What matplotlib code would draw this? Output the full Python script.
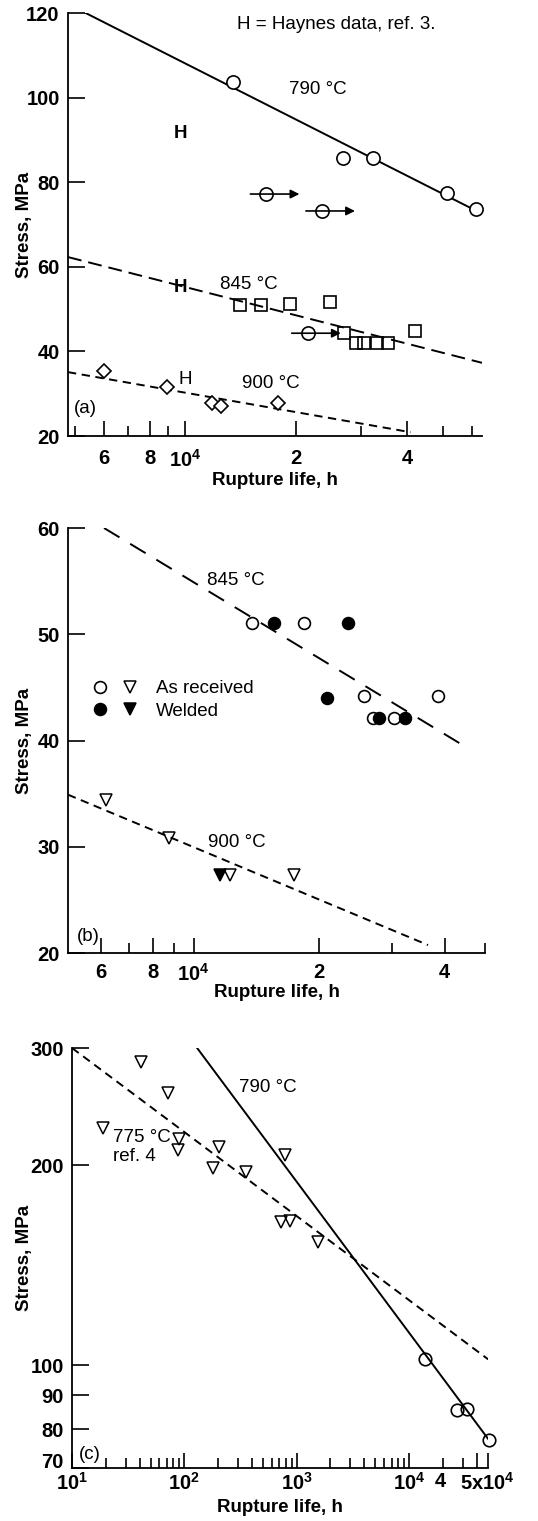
import matplotlib.pyplot as plt
import matplotlib.transforms as mtransforms
from matplotlib.ticker import FixedLocator, FixedFormatter, NullFormatter, NullLocator
from matplotlib.legend_handler import HandlerTuple

plt.rcParams['font.family'] = ['Liberation Sans', 'DejaVu Sans']
plt.rcParams['mathtext.fontset'] = 'custom'
plt.rcParams['mathtext.rm'] = 'Liberation Sans:bold'
plt.rcParams['mathtext.it'] = 'Liberation Sans:bold'
plt.rcParams['mathtext.bf'] = 'Liberation Sans:bold'
plt.rcParams['lines.scale_dashes'] = False

# ---- panel (a) data ----
a790_life = [1.35e4, 2.69e4, 3.23e4, 5.13e4, 6.15e4]
a790_stress = [103.7, 85.7, 85.7, 77.4, 73.7]
a790_run_life = [1.66e4, 2.35e4]
a790_run_stress = [77.2, 73.2]
a790_fit_life = [5.36e3, 6.35e4]
a790_fit_stress = [120, 72.7]

a845_life = [1.41e4, 1.61e4, 1.93e4, 2.47e4, 2.70e4, 2.91e4, 3.06e4, 3.31e4, 3.55e4, 4.20e4]
a845_stress = [51.0, 51.0, 51.2, 51.6, 44.3, 42.0, 42.0, 42.0, 42.0, 44.8]
a845_run_life = [2.15e4]
a845_run_stress = [44.3]
a845_fit_life = [4.8e3, 6.4e4]
a845_fit_stress = [62.3, 37.3]

a900_life = [6.0e3, 8.9e3, 1.18e4, 1.25e4, 1.79e4]
a900_stress = [35.3, 31.6, 27.8, 27.1, 27.8]
a900_fit_life = [4.8e3, 4.09e4]
a900_fit_stress = [35.1, 20.9]

# ---- panel (b) data ----
b845_recv_life = [1.38e4, 1.84e4, 2.56e4, 2.70e4, 3.03e4, 3.86e4]
b845_recv_stress = [51.1, 51.1, 44.2, 42.1, 42.1, 44.2]
b845_weld_life = [1.56e4, 2.35e4, 2.09e4, 2.79e4, 3.22e4]
b845_weld_stress = [51.1, 51.1, 44.0, 42.1, 42.1]
b845_fit_life = [6.1e3, 4.45e4]
b845_fit_stress = [60, 39.5]

b900_recv_life = [6.17e3, 8.75e3, 1.22e4, 1.74e4]
b900_recv_stress = [34.4, 30.8, 27.3, 27.3]
b900_weld_life = [1.16e4]
b900_weld_stress = [27.3]
b900_fit_life = [5e3, 3.65e4]
b900_fit_stress = [34.9, 20.75]

# ---- panel (c) data ----
c790_life = [1.39e4, 2.68e4, 3.30e4, 5.17e4]
c790_stress = [102, 85.6, 85.8, 77]
c790_fit_life = [130, 5.07e4]
c790_fit_stress = [300, 77.4]

c775_life = [41.3, 71.9, 18.9, 90.2, 88.3, 205, 181, 351, 782, 720, 866, 1540]
c775_stress = [286, 257, 227, 219, 211, 213, 198, 195, 207, 164, 165, 153]
c775_fit_life = [10, 5.07e4]
c775_fit_stress = [300, 102]

# tick setup
a_xmajor = [6e3, 8e3, 1e4, 2e4, 4e4]
a_xlabels = ['6', '8', '$10^4$', '2', '4']
a_xminor = [5e3, 7e3, 9e3, 3e4, 5e4, 6e4]
b_xmajor = [6e3, 8e3, 1e4, 2e4, 4e4]
b_xlabels = ['6', '8', '$10^4$', '2', '4']
b_xminor = [7e3, 9e3, 3e4, 5e4]
c_xmajor = [10, 100, 1e3, 1e4, 4e4, 5e4]
c_xlabels = ['$10^1$', '$10^2$', '$10^3$', '$10^4$', '4', '5x$10^4$']
c_xminor = [m * 10 ** d for d in range(1, 5) for m in range(2, 10) if m * 10 ** d < 4e4]

LW = 1.4
FS = 13.5
TFS = 14.5
LONG = (10, 5)
LONG_B = (13, 9)
SHORT = (6, 4)

fig = plt.figure(figsize=(5.38, 15.21), dpi=100)
ax_a = fig.add_axes([68 / 538, 1 - 436 / 1521, 414 / 538, 423 / 1521])
ax_b = fig.add_axes([68 / 538, 1 - 953 / 1521, 417 / 538, 425 / 1521])
ax_c = fig.add_axes([72 / 538, 1 - 1468 / 1521, 416 / 538, 420 / 1521])


def setup(ax, xmajor, xlabels, xminor, yticks, ylabels, xpad, xlab_y, ylab_x):
    ax.set_xscale('log')
    for s in ['top', 'right']:
        ax.spines[s].set_visible(False)
    for s in ['left', 'bottom']:
        ax.spines[s].set_linewidth(1.3)
    ax.xaxis.set_major_locator(FixedLocator(xmajor))
    ax.xaxis.set_major_formatter(FixedFormatter(xlabels))
    ax.xaxis.set_minor_locator(FixedLocator(xminor))
    ax.xaxis.set_minor_formatter(NullFormatter())
    ax.set_yticks(yticks, labels=ylabels)
    ax.yaxis.set_minor_locator(NullLocator())
    ax.tick_params(axis='x', which='major', direction='in', length=11, width=1.2, pad=xpad)
    ax.tick_params(axis='x', which='minor', direction='in', length=7, width=1.2)
    ax.tick_params(axis='y', which='major', direction='in', length=12, width=1.2, pad=6)
    for lab in ax.get_xticklabels() + ax.get_yticklabels():
        lab.set_fontweight('bold')
        lab.set_fontsize(TFS)
    ax.set_xlabel('Rupture life, h', fontsize=FS, fontweight='bold')
    ax.set_ylabel('Stress, MPa', fontsize=FS, fontweight='bold')
    ax.xaxis.set_label_coords(0.5, xlab_y)
    ax.yaxis.set_label_coords(ylab_x, 0.5)


# ---------------- (a) ----------------
ax = ax_a
ax.plot(a790_fit_life, a790_fit_stress, '-', color='k', lw=LW)
ax.plot(a845_fit_life, a845_fit_stress, color='k', lw=LW, dashes=LONG)
ax.plot(a900_fit_life, a900_fit_stress, color='k', lw=LW, dashes=SHORT)
for x, y in zip(a790_run_life + a845_run_life, a790_run_stress + a845_run_stress):
    ax.annotate('', xy=(x * 1.23, y), xytext=(x / 1.105, y),
                arrowprops=dict(arrowstyle='-|>', color='k', lw=1.2,
                                mutation_scale=13, shrinkA=0, shrinkB=0))
ax.plot(a790_run_life + a845_run_life, a790_run_stress + a845_run_stress, 'o',
        ms=9.5, mfc='none', mec='k', mew=1.2, zorder=4)
ax.plot(a790_life, a790_stress, 'o', ms=9.5, mfc='white', mec='k', mew=1.2,
        zorder=4, clip_on=False)
ax.plot(a845_life, a845_stress, 's', ms=9, mfc='none', mec='k', mew=1.2, zorder=4)
ax.plot(a900_life, a900_stress, 'D', ms=7, mfc='white', mec='k', mew=1.2, zorder=4)
ax.text(2.57e4, 117.2, 'H = Haynes data, ref. 3.', fontsize=FS, ha='center', va='center')
ax.text(2.29e4, 102.0, '790 °C', fontsize=FS, ha='center', va='center')
ax.text(9.7e3, 91.4, 'H', fontsize=FS, fontweight='bold', ha='center', va='center')
ax.text(9.7e3, 55.0, 'H', fontsize=FS, fontweight='bold', ha='center', va='center')
ax.text(1.49e4, 55.8, '845 °C', fontsize=FS, ha='center', va='center')
ax.text(1.0e4, 33.4, 'H', fontsize=FS, ha='center', va='center')
ax.text(1.71e4, 32.5, '900 °C', fontsize=FS, ha='center', va='center')
ax.text(4.98e3, 26.4, '(a)', fontsize=FS, ha='left', va='center')
ax.set_xlim(4.8e3, 6.4e4)
ax.set_ylim(20, 120)
setup(ax, a_xmajor, a_xlabels, a_xminor, [20, 40, 60, 80, 100, 120],
      ['20', '40', '60', '80', '100', '120'], 9, -0.085, -0.085)

# ---------------- (b) ----------------
ax = ax_b
ax.plot(b845_fit_life, b845_fit_stress, color='k', lw=LW, dashes=LONG_B)
ax.plot(b900_fit_life, b900_fit_stress, color='k', lw=LW, dashes=SHORT)
h_oc, = ax.plot(b845_recv_life, b845_recv_stress, 'o', ms=8.5, mfc='white', mec='k',
                mew=1.2, zorder=4)
h_fc, = ax.plot(b845_weld_life, b845_weld_stress, 'o', ms=8.5, mfc='k', mec='k',
                mew=1.2, zorder=5)
h_ot, = ax.plot(b900_recv_life, b900_recv_stress, 'v', ms=8.5, mfc='none', mec='k',
                mew=1.1, zorder=4)
h_ft, = ax.plot(b900_weld_life, b900_weld_stress, 'v', ms=8.5, mfc='k', mec='k',
                mew=1.1, zorder=5)
ax.text(1.26e4, 55.1, '845 °C', fontsize=FS, ha='center', va='center')
ax.text(1.27e4, 30.4, '900 °C', fontsize=FS, ha='center', va='center')
ax.text(5.25e3, 21.6, '(b)', fontsize=FS, ha='left', va='center')
ax.legend([(h_oc, h_ot), (h_fc, h_ft)], ['As received', 'Welded'],
          handler_map={tuple: HandlerTuple(ndivide=None, pad=0.6)},
          loc='upper left', bbox_to_anchor=(0.055, 0.642), frameon=False,
          handlelength=2.6, handletextpad=0.85, labelspacing=0.28,
          borderpad=0, borderaxespad=0, prop={'size': FS})
ax.set_xlim(5e3, 5e4)
ax.set_ylim(20, 60)
setup(ax, b_xmajor, b_xlabels, b_xminor, [20, 30, 40, 50, 60],
      ['20', '30', '40', '50', '60'], 7, -0.072, -0.084)

# ---------------- (c) ----------------
ax = ax_c
ax.set_yscale('log')
ax.plot(c790_fit_life, c790_fit_stress, '-', color='k', lw=LW)
ax.plot(c775_fit_life, c775_fit_stress, color='k', lw=LW, dashes=SHORT)
ax.plot(c790_life, c790_stress, 'o', ms=9, mfc='none', mec='k', mew=1.2,
        zorder=4, clip_on=False)
ax.plot(c775_life, c775_stress, 'v', ms=8.5, mfc='none', mec='k', mew=1.1, zorder=4)
ax.text(551, 262, '790 °C', fontsize=FS, ha='center', va='center')
ax.text(23.2, 213, '775 °C\nref. 4', fontsize=FS, ha='left', va='center',
        linespacing=1.15)
ax.text(11.5, 73.3, '(c)', fontsize=FS, ha='left', va='center')
ax.set_xlim(10, 5.05e4)
ax.set_ylim(70, 300)
setup(ax, c_xmajor, c_xlabels, c_xminor, [70, 80, 90, 100, 200, 300],
      ['70', '80', '90', '100', '200', '300'], 3, -0.075, -0.094)
# the "4" label sits left of its tick, as in the original
lab4 = ax.get_xticklabels()[4]
lab4.set_transform(lab4.get_transform() +
                   mtransforms.ScaledTranslation(-0.36, 0, fig.dpi_scale_trans))
# lift "70" a little so it clears the 10^1 label below it
lab70 = ax.get_yticklabels()[0]
lab70.set_transform(lab70.get_transform() +
                    mtransforms.ScaledTranslation(0, 0.07, fig.dpi_scale_trans))

fig.savefig('out.png', dpi=100)
